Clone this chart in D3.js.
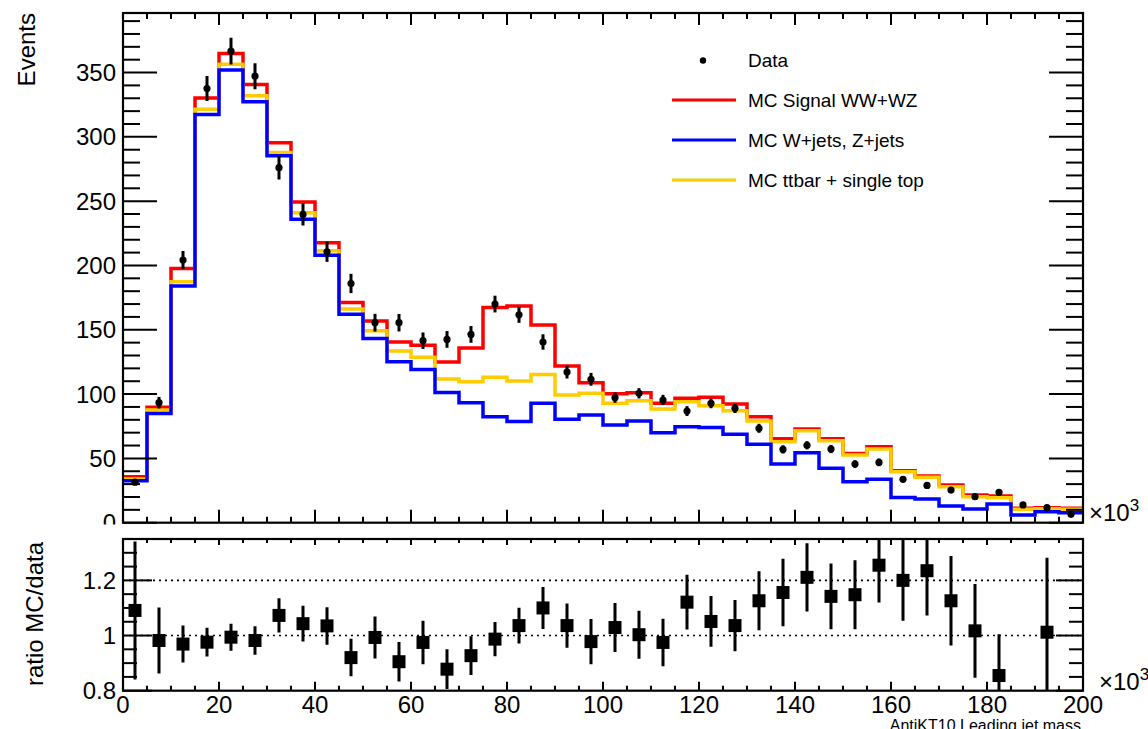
<!DOCTYPE html>
<html>
<head>
<meta charset="utf-8">
<script src="https://cdn.jsdelivr.net/npm/d3@7"></script>
<style>
  html, body { margin: 0; padding: 0; background: #fff; }
  svg { display: block; font-family: "Liberation Sans", Arial, Helvetica, sans-serif; }
</style>
</head>
<body>
<svg id="chart" width="1148" height="729"></svg>
<script>
// Leading AntiKT10 jet mass, bins of 5 (x10^3 MeV)
const binEdges = [0,5,10,15,20,25,30,35,40,45,50,55,60,65,70,75,80,85,90,95,100,
                  105,110,115,120,125,130,135,140,145,150,155,160,165,170,175,180,185,190,195,200];

// MC contributions per bin (stacked: W/Z+jets, then top, then signal)
const wzJets = [32.6,85,184,317.4,351.9,327.2,285.3,236,208,162,143.3,125.2,119.2,101.3,93.3,82.4,78.7,92.8,80.4,83.7,
                75.9,79,70,74.6,74.1,68.7,60.9,45.6,54.4,42.3,31.9,33.7,19.5,18.4,13,10.6,14.5,6,8.6,7.8];
const topQuark = [1.4,2.6,3.3,4.1,4.6,4.7,2.6,5,3.4,4.1,5.9,8.3,9.4,10.4,16.3,30.6,31.4,22.5,18.9,16.9,
                  16.9,15.8,18.4,19.5,16.8,18.3,18.1,17.4,17.1,21.4,20.7,23.6,20.2,16.9,15,9.6,4.9,4.4,2.3,2.6];
const signalWWWZ = [1.8,2.1,10.4,8.8,8.3,8.8,7.5,8.3,6.2,5.2,7.6,7,9.3,13.2,26.2,54.4,58.4,38.4,22.5,8.2,
                    7.5,6.2,4.4,2.6,6.6,5.3,3.4,2.3,1.3,1.6,1.3,1.8,0.7,1,1.3,1.3,1.3,0.8,0.8,0.8];

// Data counts and their uncertainties
const dataCounts = [31.5,93.3,204.2,337.6,366.6,347.2,276,239.7,210.6,186,155.5,155.5,141.5,142.5,146.4,170,161.7,140.5,117.1,111.5,
                    97.2,100.6,95.4,86.8,92.8,88.9,73.4,57,60.2,57.3,45.6,46.9,33.7,29,25.4,20.2,23.6,13.8,11.7,6.5];
const dataErrors = [2,4.5,7,9.7,10.4,10.1,9.1,8.6,7.8,7.5,6.9,6.8,6.4,6.5,6.5,6.5,6.3,6,5,5,
                    4,4,4,3.8,3.8,3.6,3.5,3.2,3.2,3.2,3,3,2.6,2.5,2.4,2.2,2.2,1.8,1.6,1.4];

// Ratio MC/data per bin (null = outside the displayed range)
const ratioValues = [1.091,0.982,0.969,0.976,0.994,0.982,1.073,1.043,1.035,0.92,0.993,0.905,0.975,0.878,0.927,0.987,1.036,1.1,1.036,0.978,
                     1.029,1.003,0.975,1.121,1.051,1.036,1.126,1.156,1.211,1.142,1.148,1.255,1.2,1.235,1.126,1.017,0.855,null,1.012,null];
const ratioErrors = [0.25,0.12,0.067,0.052,0.049,0.052,0.062,0.065,0.068,0.068,0.076,0.072,0.079,0.072,0.07,0.062,0.065,0.076,0.08,0.082,
                     0.089,0.087,0.086,0.099,0.092,0.093,0.107,0.122,0.124,0.119,0.125,0.135,0.146,0.162,0.162,0.17,0.15,null,0.27,null];

// Axis ticks
const yTicksMain = [0,50,100,150,200,250,300,350];
const yMinorMain = [0,10,20,30,40,50,60,70,80,90,100,110,120,130,140,150,160,170,180,190,200,210,220,230,240,250,
                    260,270,280,290,300,310,320,330,340,350,360,370,380,390];
const yTicksRatio = [0.8,1,1.2];
const yTickRatioLabels = ["0.8","1","1.2"];
const yMinorRatio = [0.8,0.85,0.9,0.95,1,1.05,1.1,1.15,1.2,1.25,1.3,1.35];
const ratioGrid = [1,1.2];
const xTickLabels = [0,20,40,60,80,100,120,140,160,180,200];

const legendLabels = ["Data","MC Signal WW+WZ","MC W+jets, Z+jets","MC ttbar + single top"];
const seriesColors = {wz: "#0000ff", top: "#ffcc00", sig: "#ff0000"};

// ---------------- layout ----------------
const L = 123, R = 1083;
const mainTop = 13, mainBot = 522.7;
const ratTop = 539, ratBot = 690.7;
const FONT = 24;

const svg = d3.select("#chart");
const x = d3.scaleLinear().domain([0, 200]).range([L, R]);
const yMain = d3.scaleLinear().domain([0, 396.3]).range([mainBot, mainTop]);
const yRatio = d3.scaleLinear().domain([0.8, 1.35]).range([ratBot, ratTop]);

const defs = svg.append("defs");
defs.append("clipPath").attr("id", "clipMain")
  .append("rect").attr("x", L).attr("y", mainTop).attr("width", R - L).attr("height", mainBot - mainTop);
defs.append("clipPath").attr("id", "clipRatio")
  .append("rect").attr("x", L).attr("y", ratTop).attr("width", R - L).attr("height", ratBot - ratTop);

// ---------------- upper panel ----------------
const upper = svg.append("g");

const rows = wzJets.map((v, i) => ({wz: v, top: topQuark[i], sig: signalWWWZ[i]}));
const stacked = d3.stack().keys(["wz", "top", "sig"])(rows);

const stepLine = d3.line().curve(d3.curveStepAfter).x(d => x(d[0])).y(d => yMain(d[1]));
function stepPoints(layer) {
  const pts = layer.map((d, i) => [binEdges[i], d[1]]);
  pts.push([binEdges[binEdges.length - 1], layer[layer.length - 1][1]]);
  return pts;
}

const histG = upper.append("g").attr("clip-path", "url(#clipMain)");
// draw total first, then top stack, then W/Z+jets on top
["sig", "top", "wz"].forEach(key => {
  const layer = stacked.find(s => s.key === key);
  histG.append("path")
    .attr("d", stepLine(stepPoints(layer)))
    .attr("fill", "none")
    .attr("stroke", seriesColors[key])
    .attr("stroke-width", 3.5)
    .attr("stroke-linejoin", "miter");
});

// data points
const dataG = upper.append("g").attr("clip-path", "url(#clipMain)");
dataCounts.forEach((v, i) => {
  const cx = x((binEdges[i] + binEdges[i + 1]) / 2);
  dataG.append("line")
    .attr("x1", cx).attr("x2", cx)
    .attr("y1", yMain(v - dataErrors[i])).attr("y2", yMain(v + dataErrors[i]))
    .attr("stroke", "#000").attr("stroke-width", 3);
  dataG.append("circle").attr("cx", cx).attr("cy", yMain(v)).attr("r", 3.6).attr("fill", "#000");
});

// upper frame and ticks
const tickStyle = sel => sel.attr("stroke", "#000").attr("stroke-width", 2);
upper.append("rect").attr("x", L).attr("y", mainTop).attr("width", R - L).attr("height", mainBot - mainTop)
  .attr("fill", "none").attr("stroke", "#000").attr("stroke-width", 2.2);

yMinorMain.forEach(v => {
  const major = yTicksMain.includes(v);
  const len = major ? 34 : 17;
  tickStyle(upper.append("line").attr("x1", L).attr("x2", L + len).attr("y1", yMain(v)).attr("y2", yMain(v)));
  tickStyle(upper.append("line").attr("x1", R).attr("x2", R - len).attr("y1", yMain(v)).attr("y2", yMain(v)));
});
binEdges.forEach(v => {
  const major = xTickLabels.includes(v);
  tickStyle(upper.append("line").attr("x1", x(v)).attr("x2", x(v)).attr("y1", mainBot).attr("y2", mainBot - (major ? 13 : 6)));
  tickStyle(upper.append("line").attr("x1", x(v)).attr("x2", x(v)).attr("y1", mainTop).attr("y2", mainTop + (major ? 12 : 6)));
});

yTicksMain.forEach(v => {
  upper.append("text").attr("x", 116).attr("y", yMain(v)).attr("dy", "0.36em")
    .attr("text-anchor", "end").attr("font-size", FONT).text(v);
});

upper.append("text")
  .attr("transform", `translate(35,13) rotate(-90)`)
  .attr("text-anchor", "end").attr("font-size", FONT).text("Events");

// exponent label
const expMain = upper.append("text").attr("x", 1089).attr("y", 521).attr("font-size", FONT);
expMain.append("tspan").text("\u00d710");
expMain.append("tspan").attr("dy", -10).attr("font-size", 17).text("3");

// legend
const legendX = 672, legendTextX = 748;
const legendY = [60.5, 100, 140, 180];
upper.append("circle").attr("cx", 703).attr("cy", legendY[0]).attr("r", 3.2).attr("fill", "#000");
[["sig", 1], ["wz", 2], ["top", 3]].forEach(([key, row]) => {
  upper.append("line").attr("x1", legendX).attr("x2", 736).attr("y1", legendY[row]).attr("y2", legendY[row])
    .attr("stroke", seriesColors[key]).attr("stroke-width", 3.2);
});
legendLabels.forEach((t, i) => {
  upper.append("text").attr("x", legendTextX).attr("y", legendY[i] + 6.7).attr("font-size", 19).text(t);
});

// ---------------- ratio panel ----------------
const lower = svg.append("g");
lower.append("rect").attr("x", 0).attr("y", 524.5).attr("width", 1148).attr("height", 729 - 524.5).attr("fill", "#fff");

ratioGrid.forEach(v => {
  lower.append("line").attr("x1", L).attr("x2", R).attr("y1", yRatio(v)).attr("y2", yRatio(v))
    .attr("stroke", "#000").attr("stroke-width", 1.6).attr("stroke-dasharray", "2,4");
});

lower.append("rect").attr("x", L).attr("y", ratTop).attr("width", R - L).attr("height", ratBot - ratTop)
  .attr("fill", "none").attr("stroke", "#000").attr("stroke-width", 2.2);

yMinorRatio.forEach(v => {
  const major = yTicksRatio.some(t => Math.abs(t - v) < 1e-9);
  tickStyle(lower.append("line").attr("x1", L).attr("x2", L + (major ? 29 : 14)).attr("y1", yRatio(v)).attr("y2", yRatio(v)));
  tickStyle(lower.append("line").attr("x1", R).attr("x2", R - (major ? 27 : 14)).attr("y1", yRatio(v)).attr("y2", yRatio(v)));
});
binEdges.forEach(v => {
  const major = xTickLabels.includes(v);
  tickStyle(lower.append("line").attr("x1", x(v)).attr("x2", x(v)).attr("y1", ratBot).attr("y2", ratBot - (major ? 9 : 5)));
  tickStyle(lower.append("line").attr("x1", x(v)).attr("x2", x(v)).attr("y1", ratTop).attr("y2", ratTop + (major ? 6 : 4)));
});

yTicksRatio.forEach((v, i) => {
  lower.append("text").attr("x", 116).attr("y", yRatio(v)).attr("dy", "0.36em")
    .attr("text-anchor", "end").attr("font-size", FONT).text(yTickRatioLabels[i]);
});
xTickLabels.forEach(v => {
  lower.append("text").attr("x", x(v)).attr("y", 712.5).attr("text-anchor", "middle")
    .attr("font-size", FONT).text(v);
});

lower.append("text")
  .attr("transform", `translate(43,542) rotate(-90)`)
  .attr("text-anchor", "end").attr("font-size", FONT).text("ratio MC/data");

// axis title sits at the lower page edge and runs off it
lower.append("text").attr("x", 1081).attr("y", 730.5).attr("text-anchor", "end")
  .attr("font-size", 16).text("AntiKT10 Leading jet mass");

const expRatio = lower.append("text").attr("x", 1099).attr("y", 690).attr("font-size", FONT);
expRatio.append("tspan").text("\u00d710");
expRatio.append("tspan").attr("dy", -10).attr("font-size", 17).text("3");

const ratioG = lower.append("g").attr("clip-path", "url(#clipRatio)");
ratioValues.forEach((v, i) => {
  if (v === null) return;
  const cx = x((binEdges[i] + binEdges[i + 1]) / 2);
  ratioG.append("line").attr("x1", cx).attr("x2", cx)
    .attr("y1", yRatio(v - ratioErrors[i])).attr("y2", yRatio(v + ratioErrors[i]))
    .attr("stroke", "#000").attr("stroke-width", 3);
  ratioG.append("rect").attr("x", cx - 6.5).attr("y", yRatio(v) - 6.5).attr("width", 13).attr("height", 13)
    .attr("fill", "#000");
});
</script>
</body>
</html>
